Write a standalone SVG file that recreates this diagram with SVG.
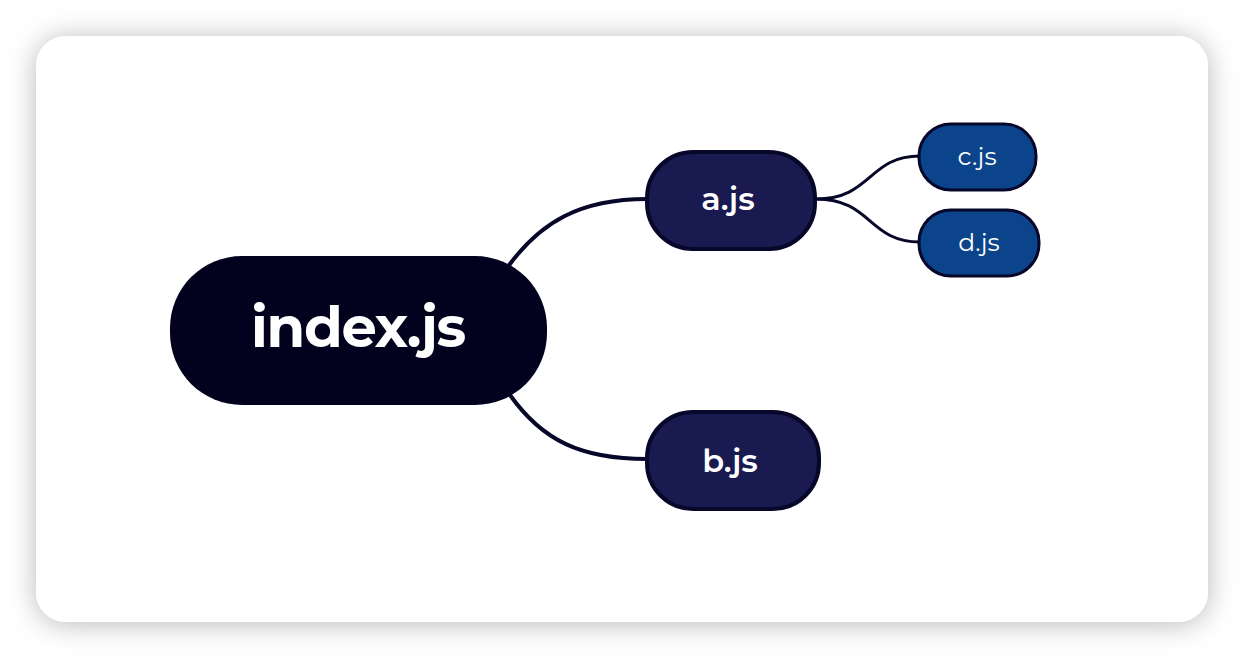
<svg xmlns="http://www.w3.org/2000/svg" width="1244" height="658" viewBox="0 0 1244 658">
  <defs>
    <filter id="shadow" x="-10%" y="-15%" width="120%" height="130%">
      <feDropShadow dx="0" dy="2" stdDeviation="14" flood-color="#000" flood-opacity="0.28"/>
    </filter>
  </defs>
  <style>
    .lbl { fill: #ffffff; font-family: "Montserrat", "Lato", "Open Sans", sans-serif; text-anchor: middle; }
    .conn { fill: none; stroke: #07072a; stroke-linecap: round; }
    .mid { fill: #191a50; stroke: #07072a; stroke-width: 4; }
    .leaf { fill: #0b448a; stroke: #07072a; stroke-width: 3; }
  </style>
  <rect x="0" y="0" width="1244" height="658" fill="#ffffff"/>
  <rect x="36" y="36" width="1172" height="586" rx="30" ry="30" fill="#ffffff" filter="url(#shadow)"/>
  <g id="connectors">
    <path class="conn" stroke-width="4" d="M 507 268 C 540 222, 580 199, 647 199"/>
    <path class="conn" stroke-width="4" d="M 510 395 C 542 440, 580 459, 647 459"/>
    <path class="conn" stroke-width="3" d="M 816 199 C 872 199, 868 156, 920 156"/>
    <path class="conn" stroke-width="3" d="M 816 199 C 872 199, 868 242, 920 242"/>
  </g>
  <g id="node-index">
    <rect x="170" y="256" width="377" height="149" rx="72" ry="72" fill="#02021e"/>
    <text class="lbl" x="358" y="347" font-size="56" font-weight="700" letter-spacing="-1.3">index.js</text>
  </g>
  <g id="node-a">
    <rect class="mid" x="647" y="152" width="168" height="97" rx="46" ry="46"/>
    <text class="lbl" x="728" y="210" font-size="32" font-weight="600">a.js</text>
  </g>
  <g id="node-b">
    <rect class="mid" x="647" y="412" width="172" height="97" rx="46" ry="46"/>
    <text class="lbl" x="730" y="472" font-size="32" font-weight="600">b.js</text>
  </g>
  <g id="node-c">
    <rect class="leaf" x="919" y="124" width="117" height="66" rx="32" ry="32"/>
    <text class="lbl" x="977" y="165" font-size="25">c.js</text>
  </g>
  <g id="node-d">
    <rect class="leaf" x="919" y="210" width="120" height="66" rx="32" ry="32"/>
    <text class="lbl" x="979" y="251" font-size="25">d.js</text>
  </g>
</svg>
